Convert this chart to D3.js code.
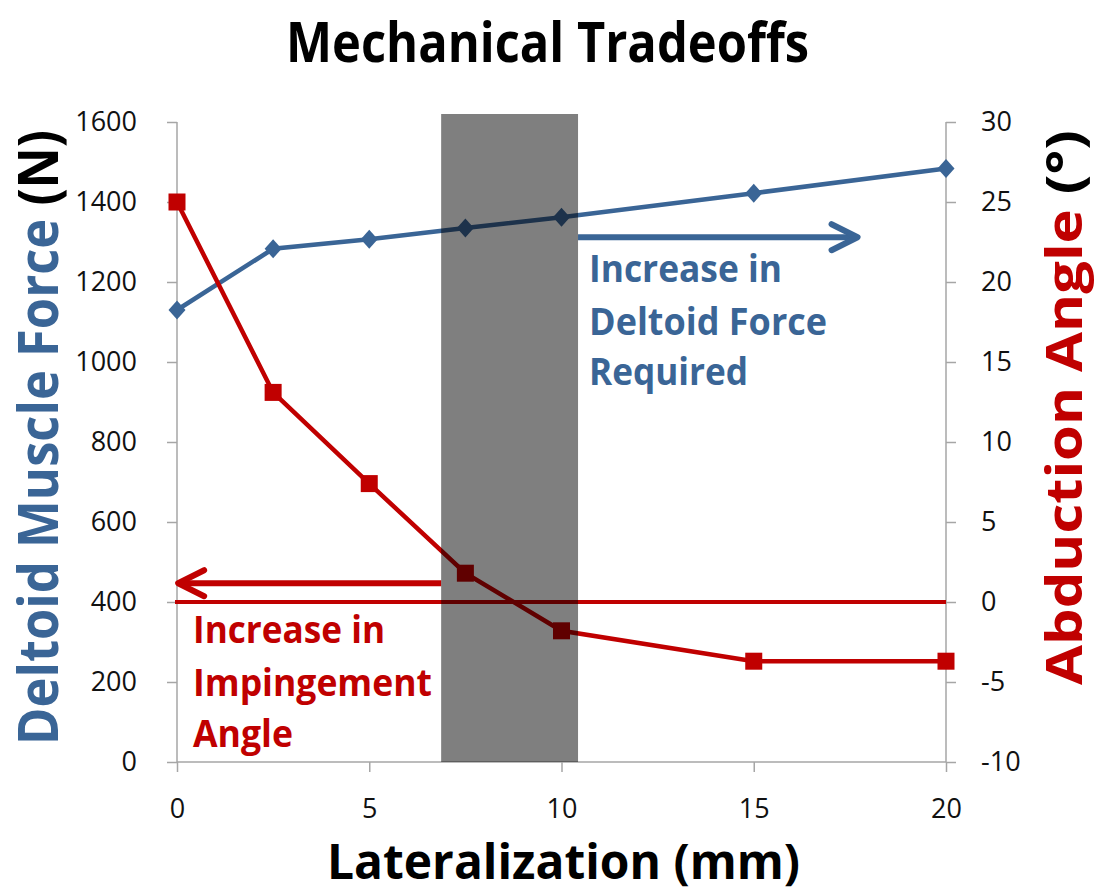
<!DOCTYPE html>
<html><head><meta charset="utf-8">
<script src="https://cdn.jsdelivr.net/npm/d3@7"></script>
<style>body{margin:0;background:#fff}svg{display:block}text{font-family:"Open Sans",Lato,sans-serif}</style>
</head><body>
<svg id="c" width="1101" height="896"></svg>
<script>
const lateralization = [0, 2.5, 5, 7.5, 10, 15, 20];
const deltoidForce = [1130, 1283, 1307, 1335, 1362, 1422, 1484];
const abductionAngle = [25, 13.1, 7.4, 1.8, -1.8, -3.7, -3.7];
const leftTicks = [0, 200, 400, 600, 800, 1000, 1200, 1400, 1600];
const rightTicks = [-10, -5, 0, 5, 10, 15, 20, 25, 30];
const xTicks = [0, 5, 10, 15, 20];
const shadedRange = [6.87, 10.43];
// annotation arrows: [fromX, toX, yForce]
const redArrow = [6.87, 0.03, 447];
const blueArrow = [10.43, 17.7, 1312];
const blueNote = ["Increase in", "Deltoid Force", "Required"];
const redNote = ["Increase in", "Impingement", "Angle"];

const blue = "#3A6596", red = "#C00000", axisGray = "#A6A6A6";
const svg = d3.select("#c");
const x = d3.scaleLinear().domain([0, 20]).range([177, 946]);
const yL = d3.scaleLinear().domain([0, 1600]).range([762, 122]);
const yR = d3.scaleLinear().domain([-10, 30]).range([762, 122]);

function fit(t, len) { t.attr("textLength", len).attr("lengthAdjust", "spacingAndGlyphs"); return t; }

// title
fit(svg.append("text").attr("x", 286).attr("y", 62)
  .attr("font-size", 56).attr("font-weight", 700).text("Mechanical Tradeoffs"), 523);

// axes
const gl = svg.append("g").attr("transform", `translate(${x(0)},0)`)
  .call(d3.axisLeft(yL).tickValues(leftTicks).tickSize(10).tickPadding(30).tickFormat(d3.format("d")));
const gr = svg.append("g").attr("transform", `translate(${x(20)},0)`)
  .call(d3.axisRight(yR).tickValues(rightTicks).tickSize(10).tickPadding(25).tickFormat(d => d < 0 ? "-" + Math.abs(d) : d));
const gb = svg.append("g").attr("transform", `translate(0,${yL(0)})`)
  .call(d3.axisBottom(x).tickValues(xTicks).tickSize(10).tickPadding(12));
[gl, gr, gb].forEach(g => {
  g.selectAll("path, line").attr("stroke", axisGray).attr("stroke-width", 1.5);
  g.selectAll("text").attr("font-size", 27).attr("fill", "#111").attr("font-family", "'Open Sans', sans-serif");
});
gl.select(".domain").attr("d", `M0,${yL(1600)}V${yL(0)}`);
gr.select(".domain").attr("d", `M0,${yR(30)}V${yR(-10)}`);
gb.select(".domain").attr("d", `M${x(0)},0H${x(20)}`);
gb.selectAll("text").attr("dy", null).attr("y", 56);

// zero line
svg.append("line").attr("x1", x(0) - 2).attr("x2", x(20)).attr("y1", yR(0)).attr("y2", yR(0))
  .attr("stroke", red).attr("stroke-width", 4);

// arrows
function arrow(spec, color) {
  const x1 = x(spec[0]), x2 = x(spec[1]), yy = yL(spec[2]);
  const dir = Math.sign(x2 - x1);
  svg.append("line").attr("x1", x1).attr("x2", x2 - dir * 3).attr("y1", yy).attr("y2", yy)
    .attr("stroke", color).attr("stroke-width", 6);
  svg.append("path").attr("d", `M${x2 - dir * 26},${yy - 13}L${x2},${yy}L${x2 - dir * 26},${yy + 13}`)
    .attr("fill", "none").attr("stroke", color).attr("stroke-width", 6)
    .attr("stroke-linecap", "round").attr("stroke-linejoin", "round");
}
arrow(redArrow, red);
arrow(blueArrow, blue);

// series
const lineF = d3.line().x((d, i) => x(lateralization[i])).y(d => yL(d));
svg.append("path").attr("d", lineF(deltoidForce)).attr("fill", "none").attr("stroke", blue).attr("stroke-width", 4.5);
svg.selectAll(".dm").data(deltoidForce).join("path")
  .attr("transform", (d, i) => `translate(${x(lateralization[i])},${yL(d)})`)
  .attr("d", "M0,-9.5L8.5,0L0,9.5L-8.5,0Z").attr("fill", blue);

const lineA = d3.line().x((d, i) => x(lateralization[i])).y(d => yR(d));
svg.append("path").attr("d", lineA(abductionAngle)).attr("fill", "none").attr("stroke", red).attr("stroke-width", 4.5);
svg.selectAll(".sq").data(abductionAngle).join("rect")
  .attr("x", (d, i) => x(lateralization[i]) - 8.5).attr("y", d => yR(d) - 8.5)
  .attr("width", 17).attr("height", 17).attr("fill", red);

// shaded band (semi-transparent on top)
svg.append("rect").attr("x", x(shadedRange[0])).attr("width", x(shadedRange[1]) - x(shadedRange[0]))
  .attr("y", yL(1620)).attr("height", yL(0) - yL(1620)).attr("fill", "#000").attr("opacity", 0.5);

// annotations
const blueLens = [193, 238, 159], blueBase = [282, 335, 385];
blueNote.forEach((s, i) => fit(svg.append("text").attr("x", 589).attr("y", blueBase[i])
  .attr("font-size", 37).attr("font-weight", 700).attr("fill", blue).text(s), blueLens[i]));
const redLens = [192, 239, 100], redBase = [643, 696, 747];
redNote.forEach((s, i) => fit(svg.append("text").attr("x", 193).attr("y", redBase[i])
  .attr("font-size", 37).attr("font-weight", 700).attr("fill", red).text(s), redLens[i]));

// axis titles
const lt = fit(svg.append("text").attr("transform", "translate(58,745) rotate(-90)")
  .attr("font-size", 55).attr("font-weight", 700), 615);
lt.append("tspan").attr("fill", blue).text("Deltoid Muscle Force ");
lt.append("tspan").attr("fill", "#000").text("(N)");
const rtt = fit(svg.append("text").attr("transform", "translate(1082,685) rotate(-90)")
  .attr("font-size", 50).attr("font-weight", 700), 555);
rtt.append("tspan").attr("fill", red).text("Abduction Angle ");
rtt.append("tspan").attr("fill", "#000").text("(°)");

fit(svg.append("text").attr("x", 327).attr("y", 879)
  .attr("font-size", 48).attr("font-weight", 700).text("Lateralization (mm)"), 473);
</script>
</body></html>
